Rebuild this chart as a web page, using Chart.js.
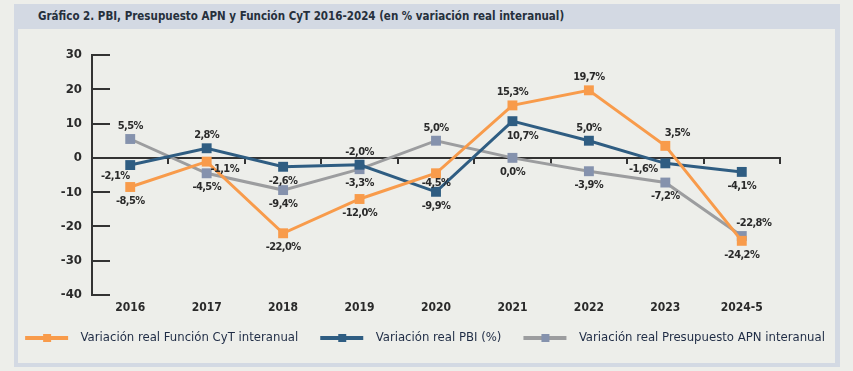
<!DOCTYPE html>
<html>
<head>
<meta charset="utf-8">
<script src="https://cdn.jsdelivr.net/npm/chart.js@4.4.1/dist/chart.umd.min.js"></script>
<style>
  html, body { margin:0; padding:0; background:#edeeea; }
  body { width:853px; height:371px; position:relative; overflow:hidden;
    font-family:'Liberation Sans Narrow','DejaVu Sans Condensed',Roboto,sans-serif; }
  .frame { position:absolute; left:14px; top:4px; width:826px; height:363px; box-sizing:border-box;
    border:4px solid #d3d9e3; border-top-width:25px; border-right-width:5px; }
  .title { position:absolute; left:38px; top:4px; height:25px; line-height:25px;
    font-size:11.5px; font-weight:bold; color:#26303c; }
  #chart { position:absolute; left:0; top:0; }
</style>
</head>
<body>
<div class="frame"></div>
<div class="title">Gráfico 2. PBI, Presupuesto APN y Función CyT 2016-2024 (en % variación real interanual)</div>
<canvas id="chart" width="853" height="371"></canvas>
<script>
const years = ['2016','2017','2018','2019','2020','2021','2022','2023','2024-5'];
const funcionCyT = [-8.5, -1.1, -22.0, -12.0, -4.5, 15.3, 19.7, 3.5, -24.2];
const pbi        = [-2.1, 2.8, -2.6, -2.0, -9.9, 10.7, 5.0, -1.6, -4.1];
const presupAPN  = [5.5, -4.5, -9.4, -3.3, 5.0, 0.0, -3.9, -7.2, -22.8];
const yTicks     = [-40, -30, -20, -10, 0, 10, 20, 30];

// where each value label sits around its point
const posCyT = ['B','R','B','B','B2','T','T','TR','B'];
const posPbi = ['BL','T','B','T','B','BR','T','L','B'];
const posApn = ['T','B','B','B','T','B','B','B','TR'];
const OFFS = { T:[0,-13], B:[0,14], B2:[0,10], TR:[12,-13], BR:[10,15], BL:[-15,11], R:[18,8], L:[-22,6] };

const FONT = "'Liberation Sans Narrow','DejaVu Sans Condensed',Roboto,sans-serif";
const INK = '#2a2a2a';
const ORANGE = '#f89b4b', BLUE = '#2f5d82', GREY = '#9c9d9f', GREY_PT = '#8592ad';

// legend swatch: line with a square in the middle, 9px empty margin each side
function legendIcon(line, box) {
  const c = document.createElement('canvas');
  c.width = 61; c.height = 10;
  const g = c.getContext('2d');
  g.fillStyle = line; g.fillRect(12, 3, 43, 4);
  g.fillStyle = box;  g.fillRect(30, 1, 8, 8);
  return c;
}

const labelPlugin = {
  id: 'valueLabels',
  afterDatasetsDraw(chart) {
    const ctx = chart.ctx;
    ctx.save();
    ctx.font = 'bold 11px ' + FONT;
    ctx.letterSpacing = '-0.6px';
    ctx.fillStyle = INK;
    ctx.textAlign = 'center';
    ctx.textBaseline = 'middle';
    chart.data.datasets.forEach((ds, i) => {
      chart.getDatasetMeta(i).data.forEach((pt, j) => {
        const o = OFFS[ds.labelPos[j]];
        const txt = ds.data[j].toFixed(1).replace('.', ',') + '%';
        ctx.fillText(txt, pt.x + o[0], pt.y + o[1]);
      });
    });
    ctx.restore();
  }
};

function series(label, data, line, pt, pos) {
  return { label, data, labelPos: pos, borderColor: line, backgroundColor: pt,
    pointBackgroundColor: pt, pointBorderColor: pt, pointBorderWidth: 0, borderWidth: 3,
    pointStyle: 'rect', pointRadius: 7, pointHoverRadius: 7, tension: 0,
    icon: legendIcon(line, pt) };
}

new Chart(document.getElementById('chart'), {
  type: 'line',
  data: {
    labels: years,
    datasets: [
      series('Variación real Función CyT interanual', funcionCyT, ORANGE, ORANGE, posCyT),
      series('Variación real PBI (%)', pbi, BLUE, BLUE, posPbi),
      series('Variación real Presupuesto APN interanual', presupAPN, GREY, GREY_PT, posApn)
    ]
  },
  options: {
    responsive: false,
    animation: false,
    devicePixelRatio: 1,
    layout: { padding: { top: 55, left: 0, right: 15, bottom: 16.5 } },
    plugins: {
      tooltip: { enabled: false },
      legend: {
        position: 'bottom',
        labels: {
          usePointStyle: true, pointStyleWidth: 61, padding: 10,
          color: '#1f2c45', font: { family: FONT, size: 13 },
          generateLabels(chart) {
            return chart.data.datasets.map((ds, i) => ({
              text: ds.label, pointStyle: ds.icon, datasetIndex: i,
              fillStyle: ds.borderColor, strokeStyle: ds.borderColor, lineWidth: 0,
              fontColor: '#1f2c45'
            }));
          }
        }
      }
    },
    scales: {
      x: {
        type: 'category', position: { y: 0 }, offset: true,
        ticks: { display: false },
        grid: { display: true, drawOnChartArea: false, offset: true, tickLength: 5, color: '#333', lineWidth: 2 },
        border: { display: true, color: '#333', width: 2 }
      },
      xl: {
        type: 'category', labels: years, position: 'bottom', offset: true,
        grid: { display: false, drawTicks: false }, border: { display: false },
        ticks: { color: INK, padding: 6, font: { family: FONT, size: 12, weight: 'bold' } },
        afterFit: s => { s.height = 26.5; }
      },
      y: {
        min: -40, max: 30,
        afterBuildTicks: s => { s.ticks = yTicks.map(v => ({ value: v })); },
        ticks: { color: INK, padding: 28, font: { family: FONT, size: 13, weight: 'bold' } },
        grid: { drawOnChartArea: false, tickLength: -18, color: '#333', lineWidth: 2 },
        border: { color: '#333', width: 2 },
        afterFit: s => { s.width = 92; }
      },
      yr: {
        position: 'right', ticks: { display: false },
        grid: { display: false }, border: { display: false },
        afterFit: s => { s.width = 58; }
      }
    }
  },
  plugins: [labelPlugin]
});
</script>
</body>
</html>
